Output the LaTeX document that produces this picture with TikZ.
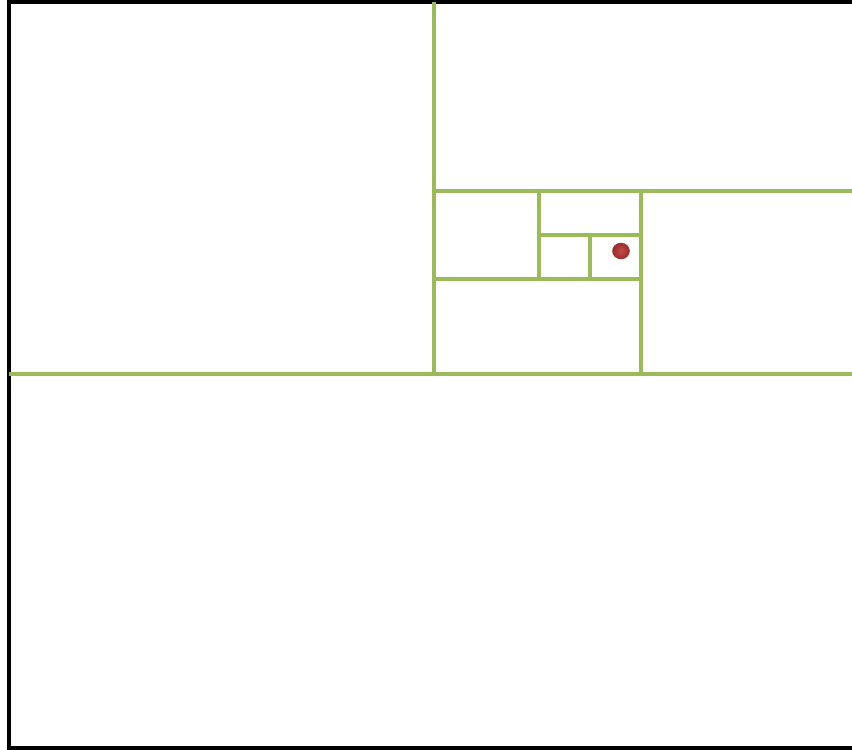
\documentclass[tikz,border=0pt]{standalone}
\definecolor{grn}{HTML}{9BBB59}
\definecolor{dotred}{HTML}{9A2C2A}
\definecolor{dotlight}{HTML}{C24A48}
\begin{document}
\begin{tikzpicture}[x=1pt,y=-1pt,
  gline/.style={draw=grn,line width=3.6pt},
  frame/.style={draw=black,line width=4.5pt}]
\useasboundingbox (0,0) rectangle (852,750);
\draw[frame] (880,2) -- (9,2) -- (9,748) -- (880,748);
\draw[gline] (9,374) -- (852,374);
\draw[gline] (434,2) -- (434,374);
\draw[gline] (434,191) -- (852,191);
\draw[gline] (641,191) -- (641,374);
\draw[gline] (434,279) -- (641,279);
\draw[gline] (539,191) -- (539,279);
\draw[gline] (539,235) -- (641,235);
\draw[gline] (590,235) -- (590,279);
\shade[inner color=dotlight,outer color=dotred] (621,251) ellipse (8.8 and 8.2);
\end{tikzpicture}
\end{document}
